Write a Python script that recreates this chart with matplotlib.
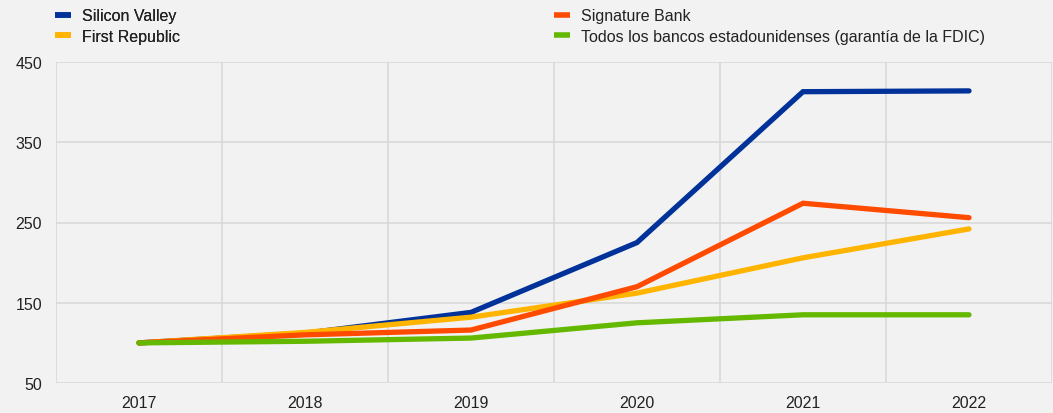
import numpy as np
import matplotlib.pyplot as plt
from matplotlib.lines import Line2D

plt.rcParams['font.family'] = ['Liberation Sans', 'DejaVu Sans']

# datos (índice 2017 = 100)
years = [2017, 2018, 2019, 2020, 2021, 2022]
silicon_valley = [100, 112, 138, 225, 413, 414]
first_republic = [100, 113, 132, 162, 206, 242]
signature_bank = [100, 110, 116, 170, 274, 256]
todos_bancos = [100, 102, 106, 125, 135, 135]

labels = ['Silicon Valley', 'First Republic', 'Signature Bank',
          'Todos los bancos estadounidenses (garantía de la FDIC)']
colors = ['#003299', '#FFB400', '#FF4B00', '#65B800']
y_ticks = [50, 150, 250, 350, 450]

bg = '#F2F2F2'
grid_c = '#D9D9D9'
fs = 11.5

fig = plt.figure(figsize=(10.53, 4.14), dpi=100, facecolor=bg)
ax = fig.add_axes([56 / 1053, 1 - 384 / 414, 996 / 1053, 321 / 414])
ax.set_facecolor(bg)

series = [silicon_valley, first_republic, signature_bank, todos_bancos]
for i, (vals, c) in enumerate(zip(series, colors)):
    ax.plot(years, vals, color=c, lw=3.8, solid_capstyle='round',
            solid_joinstyle='miter', zorder=3 + i)

ax.set_xlim(2016.5, 2022.5)
ax.set_ylim(50, 450)
ax.set_xticks(years)
ax.set_xticklabels([str(y) for y in years])
ax.set_xticks(np.arange(2016.5, 2023, 1), minor=True)
ax.set_yticks(y_ticks)

ax.grid(True, axis='y', which='major', color=grid_c, lw=1.2)
ax.grid(True, axis='x', which='minor', color=grid_c, lw=1.2)
ax.grid(False, axis='x', which='major')
for s in ax.spines.values():
    s.set_visible(False)
ax.tick_params(axis='both', which='both', length=0, labelsize=fs,
               colors='#222222')
ax.tick_params(axis='y', pad=10)
ax.tick_params(axis='x', pad=9)

handles = [Line2D([0], [0], color=c, lw=4, solid_capstyle='butt') for c in colors]
leg_kw = dict(loc='upper left', frameon=False, fontsize=fs, handlelength=1.0,
              handletextpad=0.69, labelspacing=0.35, borderaxespad=0)
leg1 = fig.legend(handles[:2], labels[:2],
                  bbox_to_anchor=(48.6 / 1053, 1 - 3 / 414), **leg_kw)
leg2 = fig.legend(handles[2:], labels[2:],
                  bbox_to_anchor=(547.6 / 1053, 1 - 3 / 414), **leg_kw)
fig.add_artist(leg1)
for t in leg1.get_texts() + leg2.get_texts():
    t.set_color('#222222')

fig.savefig('out.png', dpi=100, facecolor=bg)
